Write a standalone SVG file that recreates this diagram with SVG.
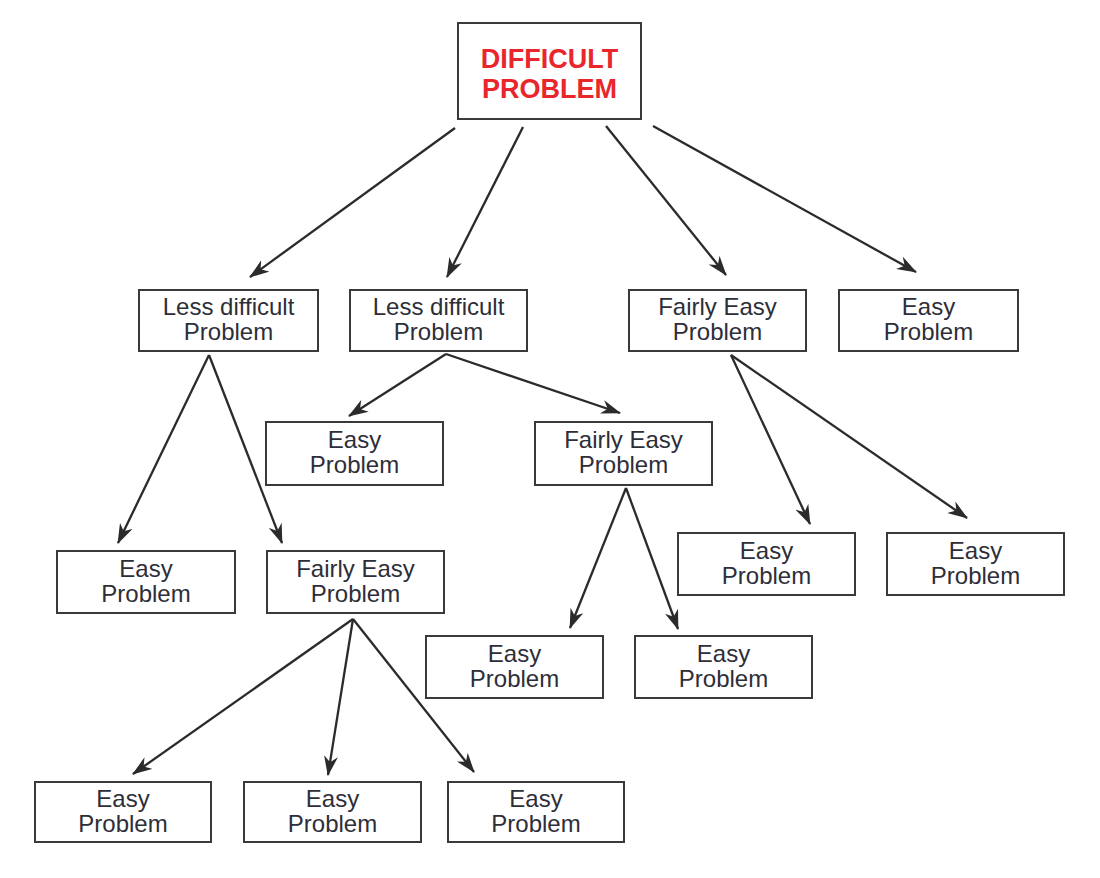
<svg xmlns="http://www.w3.org/2000/svg" width="1100" height="878" viewBox="0 0 1100 878">
<style>
.box{fill:#fff;stroke:#3a3a3a;stroke-width:2}
.t{font-family:"Liberation Sans",Arial,sans-serif;font-size:24px;fill:#2e2e38;text-anchor:middle}
.r{font-family:"Liberation Sans",Arial,sans-serif;font-size:27px;font-weight:bold;fill:#e8262c;text-anchor:middle}
.c line{stroke:#2b2b2b;stroke-width:2.3;fill:none;marker-end:url(#ah)}
</style>
<defs>
<marker id="ah" viewBox="0 0 20 14" refX="19" refY="7" markerWidth="20" markerHeight="14" orient="auto" markerUnits="userSpaceOnUse">
<path d="M0,0 L20,7 L0,14 L6,7 Z" fill="#2b2b2b"/>
</marker>
</defs>
<rect width="1100" height="878" fill="#fff"/>
<g class="c" id="connectors">
<line x1="455" y1="128" x2="250" y2="277"/>
<line x1="523" y1="127" x2="447" y2="277"/>
<line x1="606" y1="126" x2="726" y2="275"/>
<line x1="653" y1="126" x2="916" y2="272"/>
<line x1="209" y1="355" x2="118" y2="543"/>
<line x1="209" y1="355" x2="282" y2="543"/>
<line x1="446" y1="354" x2="349" y2="416"/>
<line x1="446" y1="354" x2="620" y2="413"/>
<line x1="731" y1="355" x2="810" y2="524"/>
<line x1="731" y1="355" x2="967" y2="518"/>
<line x1="626" y1="488" x2="570" y2="628"/>
<line x1="626" y1="488" x2="678" y2="629"/>
<line x1="353" y1="619" x2="133" y2="774"/>
<line x1="353" y1="619" x2="328" y2="775"/>
<line x1="353" y1="619" x2="474" y2="772"/>
</g>
<g id="root"><rect class="box" x="458" y="23" width="183" height="96"/><text class="r" x="549.5" y="68">DIFFICULT</text><text class="r" x="549.5" y="98">PROBLEM</text></g>
<g id="a"><rect class="box" x="139" y="290" width="179" height="61"/><text class="t" x="228.5" y="315">Less difficult</text><text class="t" x="228.5" y="340">Problem</text></g>
<g id="b"><rect class="box" x="350" y="290" width="177" height="61"/><text class="t" x="438.5" y="315">Less difficult</text><text class="t" x="438.5" y="340">Problem</text></g>
<g id="c"><rect class="box" x="629" y="290" width="177" height="61"/><text class="t" x="717.5" y="315">Fairly Easy</text><text class="t" x="717.5" y="340">Problem</text></g>
<g id="d"><rect class="box" x="839" y="290" width="179" height="61"/><text class="t" x="928.5" y="315">Easy</text><text class="t" x="928.5" y="340">Problem</text></g>
<g id="b1"><rect class="box" x="266" y="422" width="177" height="63"/><text class="t" x="354.5" y="448">Easy</text><text class="t" x="354.5" y="473">Problem</text></g>
<g id="b2"><rect class="box" x="535" y="422" width="177" height="63"/><text class="t" x="623.5" y="448">Fairly Easy</text><text class="t" x="623.5" y="473">Problem</text></g>
<g id="a1"><rect class="box" x="57" y="551" width="178" height="62"/><text class="t" x="146" y="577">Easy</text><text class="t" x="146" y="602">Problem</text></g>
<g id="a2"><rect class="box" x="267" y="551" width="177" height="62"/><text class="t" x="355.5" y="577">Fairly Easy</text><text class="t" x="355.5" y="602">Problem</text></g>
<g id="c1"><rect class="box" x="678" y="533" width="177" height="62"/><text class="t" x="766.5" y="559">Easy</text><text class="t" x="766.5" y="584">Problem</text></g>
<g id="c2"><rect class="box" x="887" y="533" width="177" height="62"/><text class="t" x="975.5" y="559">Easy</text><text class="t" x="975.5" y="584">Problem</text></g>
<g id="b21"><rect class="box" x="426" y="636" width="177" height="62"/><text class="t" x="514.5" y="662">Easy</text><text class="t" x="514.5" y="687">Problem</text></g>
<g id="b22"><rect class="box" x="635" y="636" width="177" height="62"/><text class="t" x="723.5" y="662">Easy</text><text class="t" x="723.5" y="687">Problem</text></g>
<g id="a21"><rect class="box" x="35" y="782" width="176" height="60"/><text class="t" x="123" y="807">Easy</text><text class="t" x="123" y="832">Problem</text></g>
<g id="a22"><rect class="box" x="244" y="782" width="177" height="60"/><text class="t" x="332.5" y="807">Easy</text><text class="t" x="332.5" y="832">Problem</text></g>
<g id="a23"><rect class="box" x="448" y="782" width="176" height="60"/><text class="t" x="536" y="807">Easy</text><text class="t" x="536" y="832">Problem</text></g>
</svg>
